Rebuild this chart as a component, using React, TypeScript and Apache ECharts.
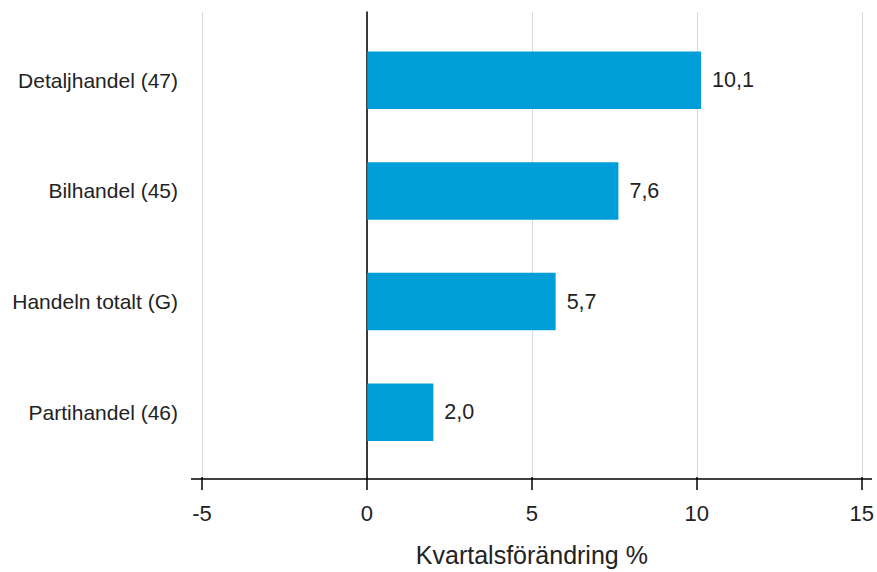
import React, { useEffect, useRef } from "react";
import * as echarts from "echarts";

const categories = ["Partihandel (46)", "Handeln totalt (G)", "Bilhandel (45)", "Detaljhandel (47)"];
const values = [2.0, 5.7, 7.6, 10.1];
const xMin = -5;
const xMax = 15;
const xInterval = 5;
const axisTitle = "Kvartalsförändring %";

const FONT = "'Liberation Sans', Arial, sans-serif";
const TEXT = "#222222";

export default function App() {
  const ref = useRef<HTMLDivElement>(null);
  useEffect(() => {
    if (!ref.current) return;
    const chart = echarts.init(ref.current, undefined, { renderer: "svg" });
    const fmt = (v: number) => v.toFixed(1).replace(".", ",");
    chart.setOption({
      animation: false,
      textStyle: { fontFamily: FONT },
      grid: [
        { left: 202, right: 14, top: 12, bottom: 93 },
        { left: 202, right: 14, top: 25, bottom: 104.5 },
      ],
      xAxis: [
        {
          type: "value",
          gridIndex: 0,
          min: xMin,
          max: xMax,
          interval: xInterval,
          axisLine: { show: false },
          axisTick: { show: true, length: 13, lineStyle: { color: "#000", width: 1.5 } },
          axisLabel: {
            color: TEXT,
            fontSize: 22,
            fontFamily: FONT,
            margin: 25,
            formatter: (v: number) => String(v),
          },
          splitLine: { show: true, lineStyle: { color: "#d9d9d9", width: 1 } },
          name: axisTitle,
          nameLocation: "middle",
          nameGap: 65,
          nameTextStyle: { color: TEXT, fontSize: 25, fontFamily: FONT },
        },
        {
          type: "value",
          gridIndex: 1,
          min: xMin,
          max: xMax,
          interval: xInterval,
          show: false,
        },
      ],
      yAxis: [
        {
          type: "category",
          gridIndex: 0,
          data: categories,
          axisLine: { show: true, onZero: true, lineStyle: { color: "#000", width: 1.5 } },
          axisTick: { show: false },
          axisLabel: { show: false },
          splitLine: { show: false },
        },
        {
          type: "category",
          gridIndex: 1,
          data: categories,
          axisLine: { show: false, onZero: false },
          axisTick: { show: false },
          axisLabel: { color: TEXT, fontSize: 21, fontFamily: FONT, margin: 24 },
          splitLine: { show: false },
        },
      ],
      graphic: [
        {
          type: "line",
          shape: { x1: 191, y1: 479, x2: 872, y2: 479 },
          style: { stroke: "#000", lineWidth: 1.5 },
          z: 10,
        },
      ],
      series: [
        {
          type: "bar",
          xAxisIndex: 1,
          yAxisIndex: 1,
          data: values,
          barWidth: "52%",
          itemStyle: { color: "#009ed8" },
          label: {
            show: true,
            position: "right",
            distance: 11,
            color: TEXT,
            fontSize: 21.5,
            fontFamily: FONT,
            formatter: (p: any) => fmt(p.value),
          },
          z: 3,
        },
      ],
    });
    return () => chart.dispose();
  }, []);
  return <div ref={ref} style={{ position: "absolute", left: 0, top: 0, width: 877, height: 572 }} />;
}
